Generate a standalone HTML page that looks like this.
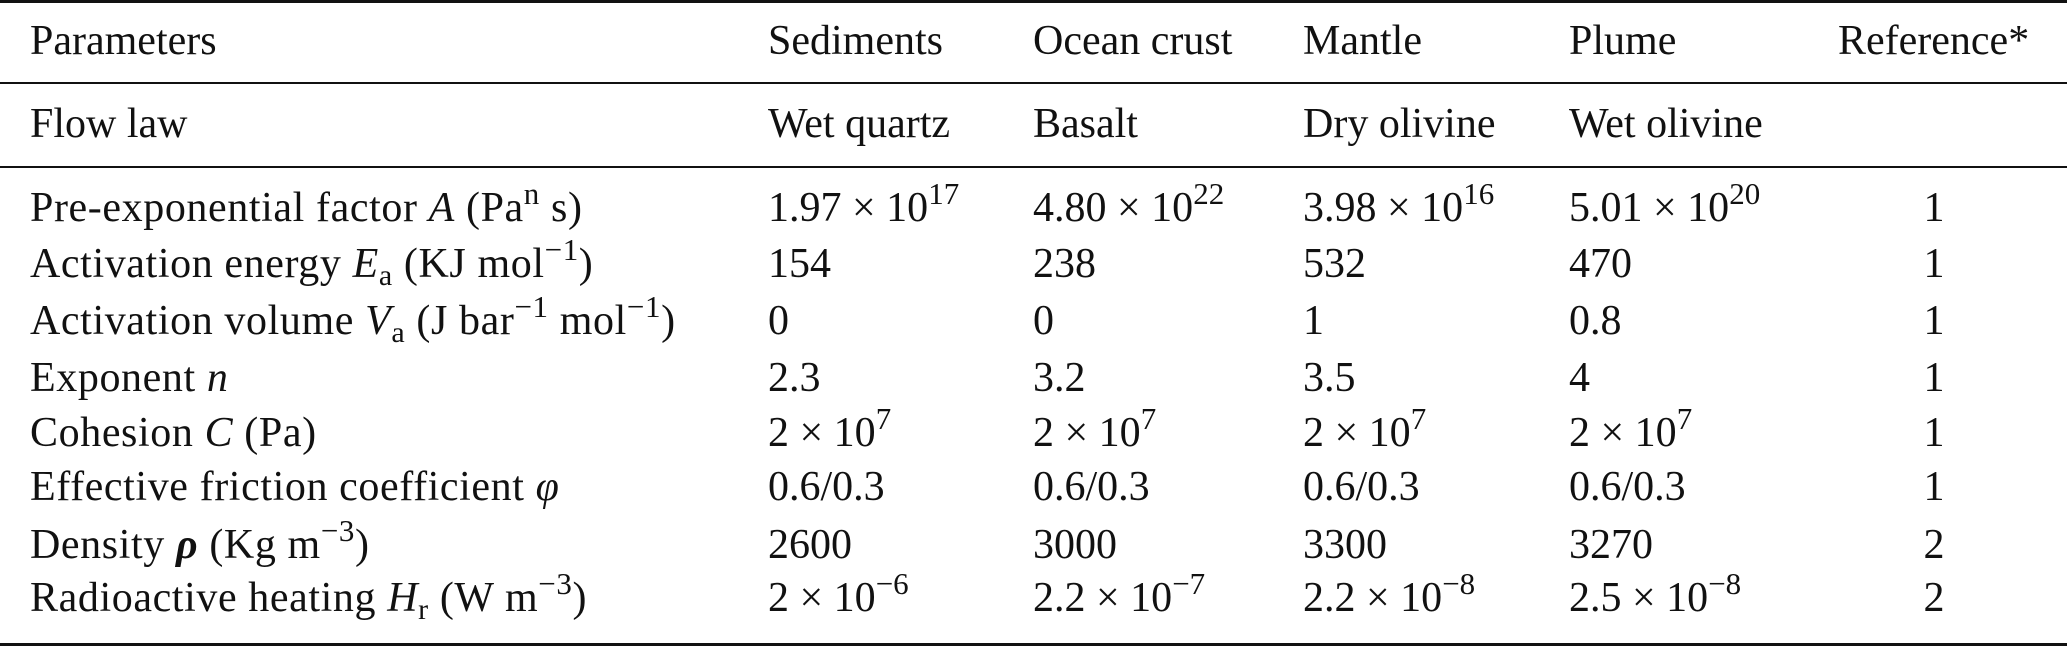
<!DOCTYPE html>
<html><head><meta charset="utf-8"><style>
body{margin:0;width:2067px;height:647px;background:#fff;overflow:hidden;position:relative;font-family:"Liberation Serif",serif;font-size:42px;color:#111}
.t{position:absolute;height:50px;line-height:50px;white-space:nowrap}
.p{letter-spacing:0.6px}
.r{position:absolute;left:0;width:2067px;background:#111}
sup{font-size:31px;line-height:0;vertical-align:17px}
sub{font-size:30px;line-height:0;vertical-align:-8px}
i{font-style:italic}
.c{text-align:center;width:80px;margin-left:-40px}
</style></head><body>
<div class="r" style="top:0;height:3px"></div>
<div class="r" style="top:82px;height:2px"></div>
<div class="r" style="top:166px;height:2px"></div>
<div class="r" style="top:643px;height:3px"></div>
<div id="tbl"></div>
<script>
const ys=[41,124,208,264,321,378,433,487,545,598];
const xs=[30,768,1033,1303,1569];
const refX=1934;
const rows=[
["Parameters","Sediments","Ocean crust","Mantle","Plume","Reference*"],
["Flow law","Wet quartz","Basalt","Dry olivine","Wet olivine",""],
["Pre-exponential factor <i>A</i> (Pa<sup>n</sup> s)","1.97 × 10<sup>17</sup>","4.80 × 10<sup>22</sup>","3.98 × 10<sup>16</sup>","5.01 × 10<sup>20</sup>","1"],
["Activation energy <i>E</i><sub>a</sub> (KJ mol<sup>−1</sup>)","154","238","532","470","1"],
["Activation volume <i>V</i><sub>a</sub> (J bar<sup>−1</sup> mol<sup>−1</sup>)","0","0","1","0.8","1"],
["Exponent <i>n</i>","2.3","3.2","3.5","4","1"],
["Cohesion <i>C</i> (Pa)","2 × 10<sup>7</sup>","2 × 10<sup>7</sup>","2 × 10<sup>7</sup>","2 × 10<sup>7</sup>","1"],
["Effective friction coefficient <i>φ</i>","0.6/0.3","0.6/0.3","0.6/0.3","0.6/0.3","1"],
["Density <b><i>ρ</i></b> (Kg m<sup>−3</sup>)","2600","3000","3300","3270","2"],
["Radioactive heating <i>H</i><sub>r</sub> (W m<sup>−3</sup>)","2 × 10<sup>−6</sup>","2.2 × 10<sup>−7</sup>","2.2 × 10<sup>−8</sup>","2.5 × 10<sup>−8</sup>","2"]
];
const tbl=document.getElementById('tbl');
rows.forEach((row,ri)=>{
 row.forEach((txt,ci)=>{
  const d=document.createElement('div');
  d.className='t';
  if(ci===0&&ri>1)d.classList.add('p');
  d.innerHTML=txt;
  d.style.top=(ys[ri]-25)+'px';
  if(ci<5){d.style.left=xs[ci]+'px';}
  else if(ri===0){d.style.left='1838px';}
  else{d.classList.add('c');d.style.left=refX+'px';}
  
  
  tbl.appendChild(d);
 });
});
</script>
</body></html>
